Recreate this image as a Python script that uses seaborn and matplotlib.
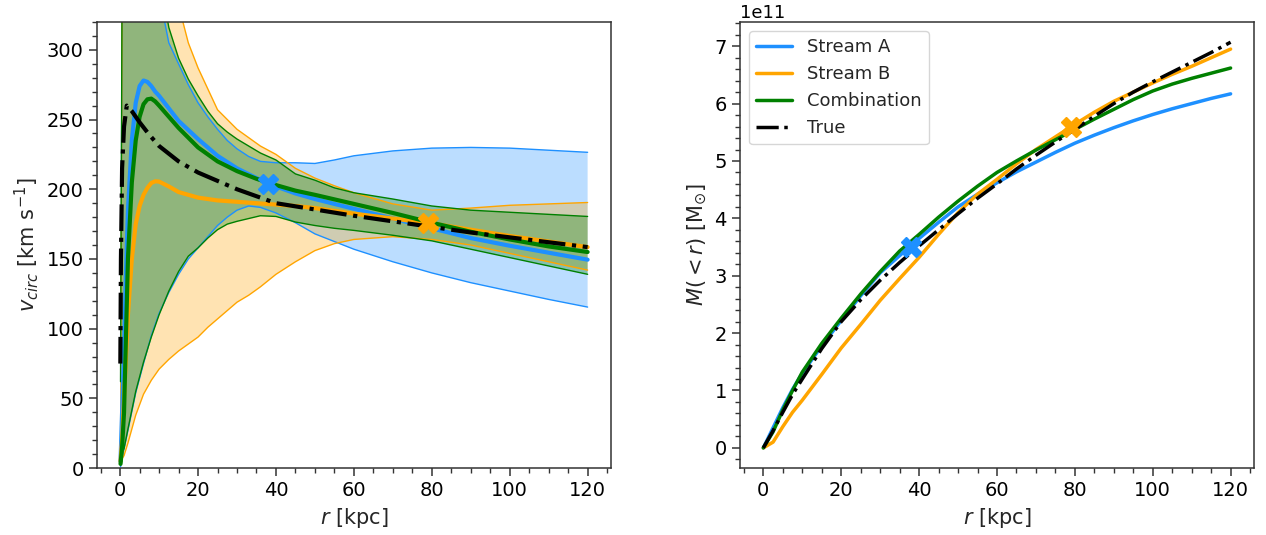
#!/usr/bin/env python3
# -*- coding: utf-8 -*-

import numpy as np
import seaborn as sns
import matplotlib.pyplot as plt
from matplotlib.ticker import AutoMinorLocator, MultipleLocator

sns.set_theme(style="ticks")
plt.rcParams['font.family'] = ['DejaVu Sans']

# ---- circular velocity bands (km/s) ----
r_band = [0.1, 1, 2, 4, 6, 8, 10, 12.5, 15, 17.5, 20, 22.5, 25, 27.5, 30, 33, 36, 40,
          45, 50, 55, 60, 70, 80, 90, 100, 110, 120]
vA_lo = [1, 14, 27, 54, 75, 95, 111, 126, 139, 150, 158, 166, 174, 180, 185, 188, 187, 183,
         176, 168, 162.5, 157, 148, 140, 133, 127, 121, 115.5]
vA_hi = [75, 600, 700, 600, 480, 400, 340, 305, 290, 275, 262, 252, 243, 235, 229, 223.5, 220, 219,
         219, 218.5, 221, 224, 227.5, 229.5, 230, 229.5, 228, 226.5]
vB_lo = [5, 9, 18, 38, 53, 63, 71, 78, 84, 89, 94, 101, 107, 113, 119, 124, 130, 139,
         148, 156, 161, 164, 166, 164, 160, 154, 148, 142]
vB_hi = [10, 700, 900, 800, 620, 520, 440, 380, 332, 305, 287, 272, 257, 250, 243, 237, 231, 225,
         215, 208, 202.5, 197.5, 189.5, 185, 186.5, 188.5, 189.5, 190.5]
vC_lo = [8, 14, 28, 55, 76, 94, 110, 127, 141, 152, 158, 165, 171, 175, 177, 179, 181, 180.5,
         176.5, 174, 172, 170.5, 167, 163, 157, 151, 145, 139]
vC_hi = [62, 700, 800, 650, 520, 420, 355, 316, 294, 279, 267, 256, 247, 241, 236, 231, 226, 221,
         211, 206.5, 201, 197.5, 193, 188, 185, 183.5, 182, 180.5]

# medians
r_med = [0.1, 0.5, 1, 1.5, 2, 3, 4, 5, 6, 7, 8, 9, 10, 12.5, 15, 20, 25, 30, 35, 40,
         45, 50, 60, 70, 80, 90, 100, 110, 120]
vA_med = [5, 40, 85, 140, 185, 235, 262, 274, 278, 277, 274, 270, 267, 258, 249, 236, 224, 215, 208, 202,
          197, 193, 186, 179, 172, 165, 159.5, 154.5, 149.5]
vB_med = [5, 20, 50, 80, 110, 150, 175, 188, 196, 201, 204.5, 205.7, 205.5, 202, 198, 194, 192, 191, 190, 189,
          188, 186.5, 182.5, 179, 175.5, 171, 166.5, 162.5, 158.5]
vC_med = [3, 15, 40, 95, 150, 205, 235, 252, 261, 264.5, 265, 263, 260, 252, 244, 230, 220, 213, 207.5, 203,
          199, 196, 189.5, 183, 176, 169.5, 164, 159, 155]

r_true = [0.05, 0.2, 0.5, 1, 1.7, 3, 5, 7.5, 10, 15, 20, 25, 30, 40, 50, 60, 70, 80, 90, 100, 110, 120]
v_true = [75, 150, 215, 245, 260, 256, 248, 239, 231, 220, 212, 206, 200, 190, 185.5, 181, 177, 173,
          169, 165.5, 162, 158.5]

# enclosed mass (1e11 Msun)
r_mass = [0, 2.5, 5, 7.5, 10, 15, 20, 25, 30, 35, 40, 45, 50, 55, 60, 65, 70, 75, 80, 85, 90, 95,
          100, 105, 110, 115, 120]
mA = [0, 0.35, 0.7, 1.02, 1.3, 1.78, 2.22, 2.65, 3.05, 3.35, 3.65, 3.93, 4.2, 4.42, 4.62, 4.81, 4.98,
      5.15, 5.31, 5.45, 5.58, 5.7, 5.81, 5.91, 6.0, 6.09, 6.17]
mB = [0, 0.1, 0.37, 0.62, 0.83, 1.28, 1.74, 2.15, 2.57, 2.95, 3.32, 3.72, 4.1, 4.42, 4.68, 4.95, 5.2,
      5.42, 5.64, 5.85, 6.04, 6.2, 6.36, 6.51, 6.65, 6.8, 6.95]
mC = [0, 0.28, 0.66, 1.0, 1.32, 1.82, 2.26, 2.68, 3.07, 3.43, 3.72, 4.02, 4.3, 4.56, 4.8, 5.0, 5.19,
      5.37, 5.55, 5.73, 5.9, 6.07, 6.22, 6.34, 6.44, 6.53, 6.62]
m_true = [0, 0.3, 0.62, 0.93, 1.2, 1.73, 2.2, 2.58, 2.92, 3.23, 3.52, 3.8, 4.08, 4.35, 4.6, 4.86, 5.1,
          5.33, 5.55, 5.78, 6.0, 6.2, 6.38, 6.55, 6.72, 6.89, 7.07]

# stream pericentres (r, v, M)
peri_r = [38, 79]
peri_v = [204, 176]
peri_m = [3.5, 5.6]

labels = ['Stream A', 'Stream B', 'Combination']
cols = ['#1E90FF', '#FFA500', '#008000']

plt.rcParams.update({
    'xtick.labelsize': 14, 'ytick.labelsize': 14, 'axes.labelsize': 15,
    'legend.fontsize': 13, 'axes.edgecolor': '#333333', 'axes.linewidth': 1.1,
    'xtick.major.size': 6, 'ytick.major.size': 6, 'xtick.minor.size': 3.5, 'ytick.minor.size': 3.5,
    'xtick.major.width': 1.1, 'ytick.major.width': 1.1, 'xtick.minor.width': 1, 'ytick.minor.width': 1,
    'xtick.color': '#333333', 'ytick.color': '#333333',
    'xtick.labelcolor': 'black', 'ytick.labelcolor': 'black',
})

fig, axs = plt.subplots(1, 2, figsize=(12.66, 5.35), dpi=100)
fig.subplots_adjust(left=0.0766, right=0.9905, bottom=0.125, top=0.959, wspace=0.251)

# ---- left: v_circ ----
ax = axs[0]
bands = [(vA_lo, vA_hi), (vB_lo, vB_hi), (vC_lo, vC_hi)]
for (lo, hi), c in zip(bands, cols):
    ax.fill_between(r_band, lo, hi, color=c, alpha=0.3, lw=0)
for (lo, hi), c in zip(bands, cols):
    sns.lineplot(x=r_band, y=lo, color=c, lw=1, ax=ax)
    sns.lineplot(x=r_band, y=hi, color=c, lw=1, ax=ax)
for v, c in zip([vA_med, vB_med, vC_med], cols):
    sns.lineplot(x=r_med, y=v, color=c, lw=3, ax=ax)
sns.lineplot(x=r_true, y=v_true, color='black', lw=3, linestyle='-.', ax=ax)
for i in range(2):
    ax.plot(peri_r[i], peri_v[i], marker='X', ms=14, color=cols[i], mec=cols[i], ls='none', zorder=5)
ax.set_ylim(0, 320)
ax.yaxis.set_major_locator(MultipleLocator(50))
ax.yaxis.set_minor_locator(AutoMinorLocator(5))
ax.xaxis.set_minor_locator(AutoMinorLocator(4))
ax.set_xlabel(r'$r$ [kpc]')
ax.set_ylabel(r'$v_{circ}$ [km s$^{-1}$]')

# ---- right: enclosed mass ----
ax = axs[1]
r_m = np.array(r_mass)
for m, c, lab in zip([mA, mB, mC], cols, labels):
    sns.lineplot(x=r_m, y=np.array(m) * 1e11, color=c, lw=2.5, label=lab, ax=ax)
sns.lineplot(x=r_m, y=np.array(m_true) * 1e11, color='black', lw=2.5, linestyle='-.', label='True', ax=ax)
for i in range(2):
    ax.plot(peri_r[i], peri_m[i] * 1e11, marker='X', ms=14, color=cols[i], mec=cols[i], ls='none', zorder=5)
ax.yaxis.set_minor_locator(AutoMinorLocator(5))
ax.xaxis.set_minor_locator(AutoMinorLocator(4))
ax.yaxis.get_offset_text().set_fontsize(13)
ax.set_xlabel(r'$r$ [kpc]')
ax.set_ylabel(r'$M(<r)$ [M$_{\odot}$]')
ax.legend(loc='upper left')

fig.savefig('out.png', dpi=100)
